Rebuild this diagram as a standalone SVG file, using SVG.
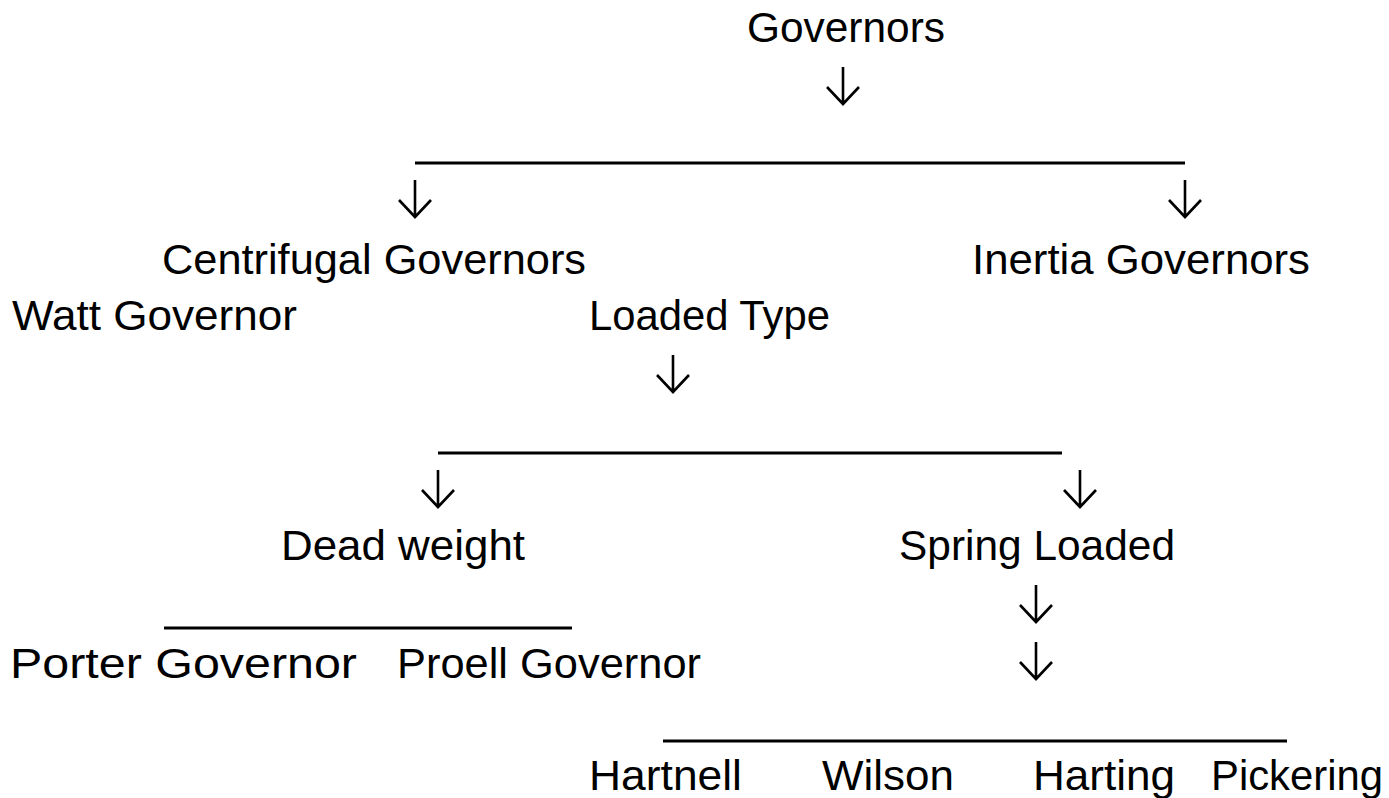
<svg xmlns="http://www.w3.org/2000/svg" width="1389" height="798" viewBox="0 0 1389 798">
<defs>
<style>
.t{font-family:"Liberation Sans",Arial,sans-serif;font-size:42px;fill:#000}
.ln{stroke:#000;stroke-width:3;fill:none}
.ar{stroke:#000;stroke-width:2.6;fill:none;stroke-linejoin:miter}
</style>
<path id="arr" d="M0,0 V37 M-16,20 L0,37 L16,20"/>
</defs>
<rect width="1389" height="798" fill="#fff"/>
<g id="connectors">
<line class="ln" x1="415" y1="163" x2="1185" y2="163"/>
<line class="ln" x1="438" y1="453" x2="1062" y2="453"/>
<line class="ln" x1="164" y1="628" x2="572" y2="628"/>
<line class="ln" x1="663" y1="741" x2="1287" y2="741"/>
<use href="#arr" class="ar" x="843" y="67"/>
<use href="#arr" class="ar" x="415" y="180"/>
<use href="#arr" class="ar" x="1185" y="180"/>
<use href="#arr" class="ar" x="673" y="355"/>
<use href="#arr" class="ar" x="438" y="470"/>
<use href="#arr" class="ar" x="1080" y="470"/>
<use href="#arr" class="ar" x="1036" y="585"/>
<use href="#arr" class="ar" x="1036" y="642"/>
</g>
<g id="n-governors"><text class="t" x="747" y="42" textLength="198" lengthAdjust="spacingAndGlyphs">Governors</text></g>
<g id="n-centrifugal"><text class="t" x="162" y="274" textLength="424" lengthAdjust="spacingAndGlyphs">Centrifugal Governors</text></g>
<g id="n-inertia"><text class="t" x="972" y="274" textLength="338" lengthAdjust="spacingAndGlyphs">Inertia Governors</text></g>
<g id="n-watt"><text class="t" x="12" y="330" textLength="285" lengthAdjust="spacingAndGlyphs">Watt Governor</text></g>
<g id="n-loaded"><text class="t" x="589" y="330" textLength="241" lengthAdjust="spacingAndGlyphs">Loaded Type</text></g>
<g id="n-dead"><text class="t" x="281" y="560" textLength="244" lengthAdjust="spacingAndGlyphs">Dead weight</text></g>
<g id="n-spring"><text class="t" x="899" y="560" textLength="276" lengthAdjust="spacingAndGlyphs">Spring Loaded</text></g>
<g id="n-porter"><text class="t" x="10" y="678" textLength="347" lengthAdjust="spacingAndGlyphs">Porter Governor</text></g>
<g id="n-proell"><text class="t" x="397" y="678" textLength="304" lengthAdjust="spacingAndGlyphs">Proell Governor</text></g>
<g id="n-hartnell"><text class="t" x="589" y="790" textLength="153" lengthAdjust="spacingAndGlyphs">Hartnell</text></g>
<g id="n-wilson"><text class="t" x="822" y="790" textLength="132" lengthAdjust="spacingAndGlyphs">Wilson</text></g>
<g id="n-harting"><text class="t" x="1033" y="790" textLength="142" lengthAdjust="spacingAndGlyphs">Harting</text></g>
<g id="n-pickering"><text class="t" x="1211" y="790" textLength="172" lengthAdjust="spacingAndGlyphs">Pickering</text></g>
</svg>
